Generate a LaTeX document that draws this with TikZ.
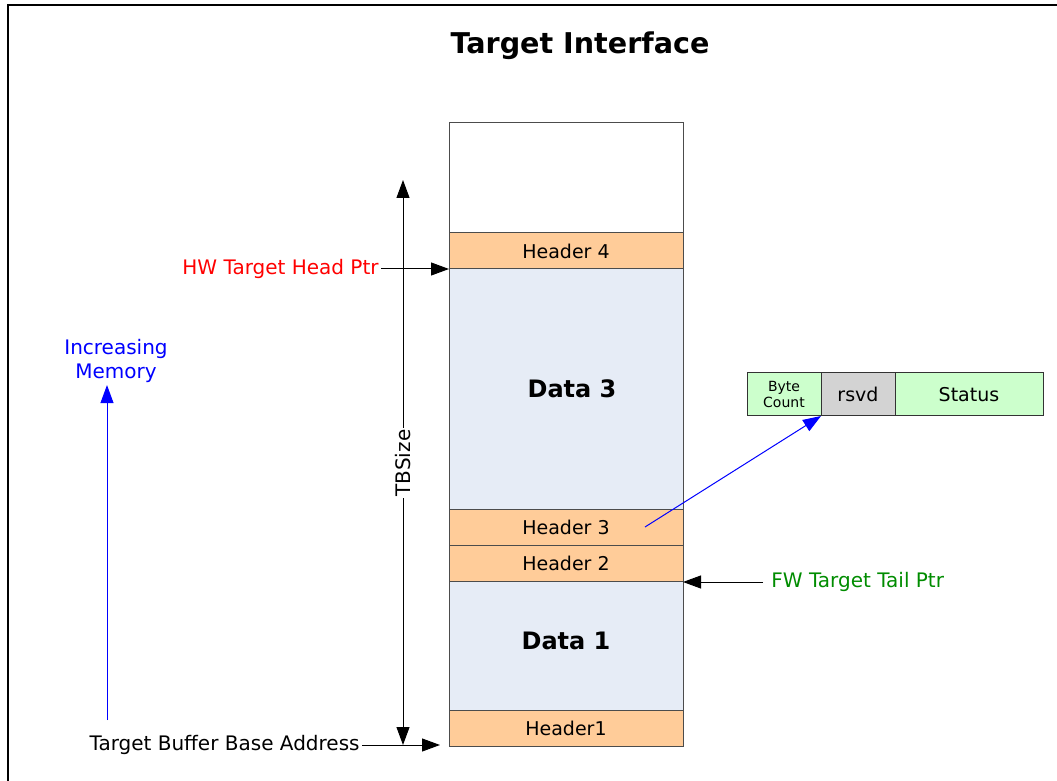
\documentclass[tikz,border=0pt]{standalone}
\usepackage{fontspec}
\setmainfont{DejaVu Sans}
\usetikzlibrary{positioning,arrows.meta}
\definecolor{hdrorange}{RGB}{255,204,153}
\definecolor{datablue}{RGB}{230,236,246}
\definecolor{regreen}{RGB}{204,255,204}
\definecolor{rsvdgray}{RGB}{211,211,211}
\definecolor{fwgreen}{RGB}{0,140,0}
\tikzset{
    cell/.style={draw=black!70, line width=0.5pt, minimum width=117pt, inner sep=0pt, outer sep=0pt, font=\fontsize{9.5}{11}\selectfont},
    hdr/.style={cell, fill=hdrorange, minimum height=18pt},
    dat/.style={cell, fill=datablue, font=\fontsize{12}{14}\selectfont\bfseries},
    reg/.style={draw=black!80, line width=0.5pt, inner sep=0pt, outer sep=0pt, minimum height=21.5pt, align=center, font=\fontsize{9.5}{11}\selectfont},
    tip/.tip={Triangle[length=9pt,width=6.5pt]},
    ptr/.style={-tip, line width=0.5pt},
    lbl/.style={font=\fontsize{10}{12}\selectfont, inner sep=1pt}
}
\begin{document}
\begin{tikzpicture}[x=0.5pt, y=-0.5pt]
        \useasboundingbox (0,0) rectangle (1057,781);
        \draw [line width=1.2pt] (1057,5) -- (8,5) -- (8,781);
        \node (title) at (580,46) {\fontsize{14.3}{16}\selectfont\bfseries Target Interface};
        \node [cell, minimum height=55pt, anchor=north west] (free) at (449,123) {};
        \node [hdr, below=0pt of free] (h4) {Header 4};
        \node [dat, minimum height=120pt, below=0pt of h4] (d3) {\hspace{6pt}Data 3};
        \node [hdr, below=0pt of d3] (h3) {Header 3};
        \node [hdr, below=0pt of h3] (h2) {Header 2};
        \node [dat, minimum height=64.5pt, below=0pt of h2] (d1) {\raisebox{4.5pt}{Data 1}};
        \node [hdr, below=0pt of d1] (h1) {Header1};
        \coordinate (tbtop) at (403,180);
        \coordinate (tbbot) at (403,745);
        \draw [tip-tip, line width=0.5pt] (tbtop) -- (tbbot);
        \node [lbl, fill=white, rotate=90] (tbsize) at (403,463) {TBSize};
        \node [lbl, text=red, anchor=east] (hw) at (381,269) {HW Target Head Ptr};
        \draw [ptr] (hw.east) -- (hw.east -| h4.west);
        \node [lbl, anchor=east] (base) at (362,745) {Target Buffer Base Address};
        \draw [ptr, shorten >=4.5pt] (base.east) -- (base.east -| h1.west);
        \node [lbl, text=fwgreen, anchor=west] (fw) at (769,582) {FW Target Tail Ptr};
        \draw [ptr, shorten <=3pt] (fw.west) -- (fw.west -| h2.east);
        \node [lbl, text=blue, align=center] (incmem) at (116,361) {Increasing\\Memory};
        \coordinate (memfoot) at (107,720);
        \draw [ptr, blue] (memfoot) -- (memfoot |- incmem.south);
        \node [reg, fill=regreen, minimum width=37pt, anchor=north west, font=\fontsize{7}{8}\selectfont] (bytecnt) at (747,373) {Byte\\Count};
        \node [reg, fill=rsvdgray, minimum width=37pt, right=0pt of bytecnt] (rsvd) {rsvd};
        \node [reg, fill=regreen, minimum width=74pt, right=0pt of rsvd] (status) {Status};
        \coordinate (hdrptr) at (645,527);
        \draw [ptr, blue] (hdrptr) -- (bytecnt.south east);
\end{tikzpicture}
\end{document}
